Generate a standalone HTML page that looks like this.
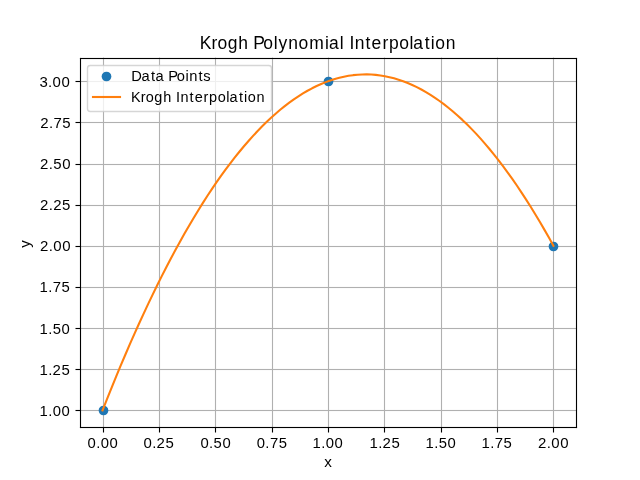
<!DOCTYPE html>
    <html><head><meta charset="utf-8"><title>Krogh Polynomial Interpolation</title>
    <style>html,body{margin:0;padding:0;background:#fff;overflow:hidden}svg{display:block;font-family:"Liberation Sans",sans-serif;will-change:transform}</style>
    </head><body>
    <svg width="640" height="480" viewBox="0 0 640 480">
    <rect x="0" y="0" width="640" height="480" fill="#ffffff"/>
<g fill="#b0b0b0"><rect x="102.9445" y="57.6" width="1.111" height="369.6"/><rect x="158.9445" y="57.6" width="1.111" height="369.6"/><rect x="214.9445" y="57.6" width="1.111" height="369.6"/><rect x="271.9445" y="57.6" width="1.111" height="369.6"/><rect x="327.9445" y="57.6" width="1.111" height="369.6"/><rect x="383.9445" y="57.6" width="1.111" height="369.6"/><rect x="440.9445" y="57.6" width="1.111" height="369.6"/><rect x="496.9445" y="57.6" width="1.111" height="369.6"/><rect x="552.9445" y="57.6" width="1.111" height="369.6"/><rect x="80" y="409.9445" width="496" height="1.111"/><rect x="80" y="368.9445" width="496" height="1.111"/><rect x="80" y="327.9445" width="496" height="1.111"/><rect x="80" y="286.9445" width="496" height="1.111"/><rect x="80" y="245.9445" width="496" height="1.111"/><rect x="80" y="204.9445" width="496" height="1.111"/><rect x="80" y="163.9445" width="496" height="1.111"/><rect x="80" y="121.9445" width="496" height="1.111"/><rect x="80" y="80.9445" width="496" height="1.111"/></g>
<circle cx="103.5" cy="410.5" r="4.86" fill="#1f77b4"/>
<circle cx="328.5" cy="81.5" r="4.86" fill="#1f77b4"/>
<circle cx="553.5" cy="246.5" r="4.86" fill="#1f77b4"/>
<polyline points="102.55,410.40 107.10,398.86 111.65,387.53 116.21,376.40 120.76,365.47 125.32,354.74 129.87,344.21 134.43,333.88 138.98,323.76 143.54,313.83 148.09,304.11 152.65,294.59 157.20,285.27 161.76,276.15 166.31,267.23 170.87,258.52 175.42,250.01 179.97,241.69 184.53,233.58 189.08,225.68 193.64,217.97 198.19,210.46 202.75,203.16 207.30,196.06 211.86,189.15 216.41,182.45 220.97,175.96 225.52,169.66 230.08,163.56 234.63,157.67 239.18,151.98 243.74,146.49 248.29,141.20 252.85,136.11 257.40,131.22 261.96,126.54 266.51,122.05 271.07,117.77 275.62,113.69 280.18,109.81 284.73,106.14 289.29,102.66 293.84,99.39 298.39,96.31 302.95,93.44 307.50,90.77 312.06,88.30 316.61,86.04 321.17,83.97 325.72,82.11 330.28,80.44 334.83,78.98 339.39,77.72 343.94,76.67 348.50,75.81 353.05,75.16 357.61,74.70 362.16,74.45 366.71,74.40 371.27,74.55 375.82,74.90 380.38,75.46 384.93,76.21 389.49,77.17 394.04,78.33 398.60,79.69 403.15,81.25 407.71,83.01 412.26,84.98 416.82,87.14 421.37,89.51 425.92,92.08 430.48,94.85 435.03,97.82 439.59,101.00 444.14,104.37 448.70,107.95 453.25,111.73 457.81,115.71 462.36,119.89 466.92,124.27 471.47,128.86 476.03,133.64 480.58,138.63 485.13,143.82 489.69,149.21 494.24,154.80 498.80,160.59 503.35,166.59 507.91,172.78 512.46,179.18 517.02,185.78 521.57,192.58 526.13,199.58 530.68,206.79 535.24,214.19 539.79,221.80 544.35,229.60 548.90,237.61 553.45,245.83" fill="none" stroke="#ff7f0e" stroke-width="2.083" stroke-linejoin="round" stroke-linecap="square"/>
<g fill="#000"><rect x="79.9445" y="57.9445" width="497.111" height="1.111"/><rect x="79.9445" y="426.9445" width="497.111" height="1.111"/><rect x="79.9445" y="57.9445" width="1.111" height="370.111"/><rect x="575.9445" y="57.9445" width="1.111" height="370.111"/></g>
<g fill="#000"><rect x="102.9445" y="427.5" width="1.111" height="5"/><rect x="158.9445" y="427.5" width="1.111" height="5"/><rect x="214.9445" y="427.5" width="1.111" height="5"/><rect x="271.9445" y="427.5" width="1.111" height="5"/><rect x="327.9445" y="427.5" width="1.111" height="5"/><rect x="383.9445" y="427.5" width="1.111" height="5"/><rect x="440.9445" y="427.5" width="1.111" height="5"/><rect x="496.9445" y="427.5" width="1.111" height="5"/><rect x="552.9445" y="427.5" width="1.111" height="5"/><rect x="75.5" y="409.9445" width="5" height="1.111"/><rect x="75.5" y="368.9445" width="5" height="1.111"/><rect x="75.5" y="327.9445" width="5" height="1.111"/><rect x="75.5" y="286.9445" width="5" height="1.111"/><rect x="75.5" y="245.9445" width="5" height="1.111"/><rect x="75.5" y="204.9445" width="5" height="1.111"/><rect x="75.5" y="163.9445" width="5" height="1.111"/><rect x="75.5" y="121.9445" width="5" height="1.111"/><rect x="75.5" y="80.9445" width="5" height="1.111"/></g>
<g fill="#000" font-family="Liberation Sans, sans-serif"><text font-size="17.487" x="199.81 211.54 217.40 227.66 238.32 242.32 253.18 263.35 273.65 278.46 288.19 298.52 309.33 325.02 328.88 339.82 343.82 349.38 354.71 365.59 371.61 382.38 388.91 399.17 409.47 413.33 424.70 430.81 435.28 445.67" y="49">Krogh Polynomial Interpolation</text><text font-size="15.248" x="324.26" y="467">x</text><text font-size="14.0" transform="translate(30.350,247.676) rotate(-90) scale(1.0787,1.0204)">y</text><text font-size="14.830" x="87.47 96.15 100.71 109.53" y="448">0.00</text><text font-size="14.972" x="143.45 152.15 156.50 165.46" y="448">0.25</text><text font-size="14.830" x="200.42 209.10 213.60 222.48" y="448">0.50</text><text font-size="14.830" x="256.69 265.37 269.90 278.70" y="448">0.75</text><text font-size="14.830" x="312.39 321.14 325.70 334.53" y="448">1.00</text><text font-size="14.972" x="369.39 378.17 382.52 391.48" y="448">1.25</text><text font-size="14.830" x="425.46 434.22 438.72 447.60" y="448">1.50</text><text font-size="14.905" x="481.46 490.23 494.75 503.55" y="448">1.75</text><text font-size="14.972" x="537.89 546.77 551.32 560.14" y="448">2.00</text><text font-size="14.830" x="39.44 48.19 52.75 61.58" y="416">1.00</text><text font-size="14.972" x="39.39 48.17 52.52 61.48" y="375">1.25</text><text font-size="14.830" x="39.44 48.19 52.70 61.58" y="334">1.50</text><text font-size="14.905" x="39.41 48.18 52.70 61.50" y="292">1.75</text><text font-size="14.972" x="39.92 48.80 53.34 62.17" y="251">2.00</text><text font-size="14.972" x="39.92 48.80 53.15 62.11" y="210">2.25</text><text font-size="14.972" x="39.92 48.80 53.29 62.17" y="169">2.50</text><text font-size="14.972" x="40.17 49.05 53.56 62.36" y="128">2.75</text><text font-size="14.972" x="39.40 48.08 52.62 61.45" y="87">3.00</text></g>
<rect x="87.5" y="65.5" width="184" height="46" rx="2.78" ry="2.78" fill="#ffffff" fill-opacity="0.8" stroke="#cccccc" stroke-opacity="0.8" stroke-width="1.389"/>
<circle cx="106.5" cy="76.5" r="4.86" fill="#1f77b4"/>
<rect x="91.95" y="95.95" width="29.1" height="2.1" fill="#ff7f0e"/>
<g fill="#000" font-family="Liberation Sans, sans-serif"><text font-size="14.706" x="131.25 141.52 151.03 155.46 159.46 168.25 176.77 185.40 189.29 198.38 203.22" y="81">Data Points</text><text font-size="14.483" x="131.02 140.79 145.76 154.32 163.21 167.21 176.07 180.53 189.59 194.63 203.61 209.07 217.63 226.22 229.46 238.93 244.02 247.77 256.44" y="102">Krogh Interpolation</text></g>
    </svg>
    </body></html>
